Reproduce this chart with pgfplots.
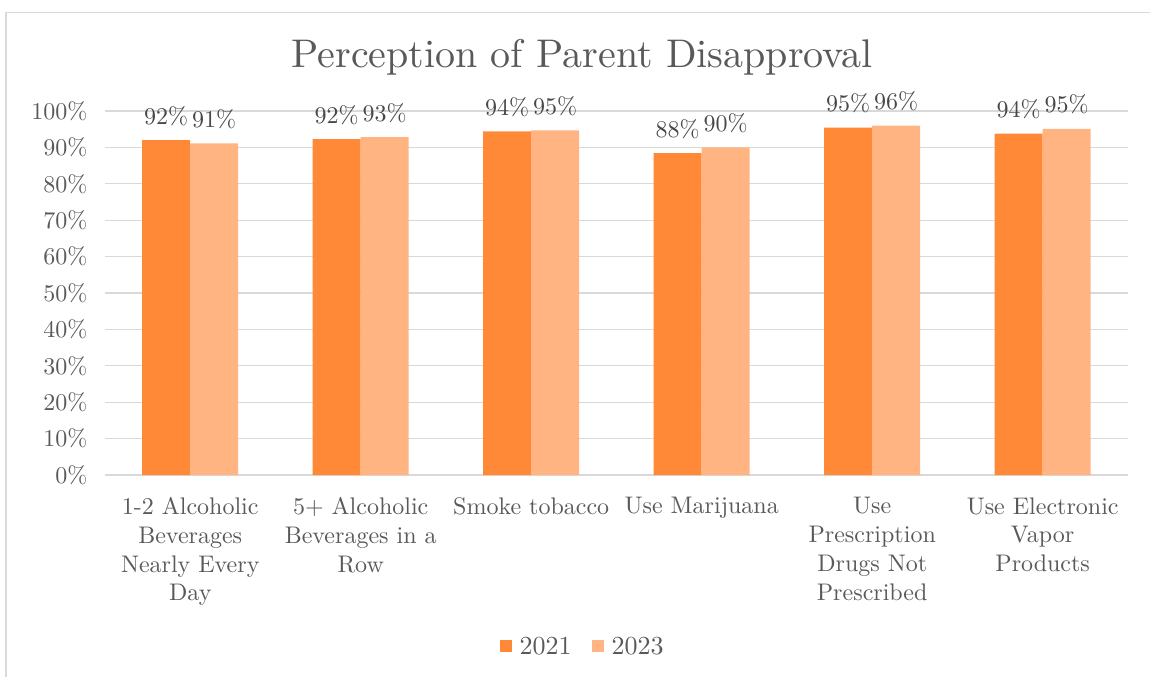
\documentclass[border=0pt]{standalone}
\usepackage{fontspec}
\setmainfont{lmroman10-regular.otf}
\usepackage{pgfplots}
\pgfplotsset{compat=1.18}
\definecolor{cA}{HTML}{FF8937}
\definecolor{cB}{HTML}{FFB482}
\definecolor{txt}{HTML}{595959}
\definecolor{grd}{HTML}{D9D9D9}
\begin{document}
\begin{tikzpicture}[x=1pt,y=1pt]
\useasboundingbox (0,0) rectangle (1150,-677);
\draw[grd,line width=2pt] (6,-677) -- (6,-12.5);
\draw[grd,line width=1.2pt] (5,-12.5) -- (1150,-12.5);
\node[text=txt,font=\fontsize{40}{44}\selectfont] at (582,-57) {Perception of Parent Disapproval};
\begin{axis}[
  at={(105pt,-475pt)}, anchor=south west,
  scale only axis, width=1023pt, height=364pt,
  ybar=0pt, bar width=48pt,
  xmin=-0.5, xmax=5.5, ymin=0, ymax=100,
  ytick={0,10,...,100},
  yticklabel={\pgfmathprintnumber{\tick}\%},
  xtick=data,
  xticklabels={{1-2 Alcoholic\\Beverages\\Nearly Every\\Day},{5+ Alcoholic\\Beverages in a\\Row},{Smoke tobacco},{Use Marijuana},{Use\\Prescription\\Drugs Not\\Prescribed},{Use Electronic\\Vapor\\Products}},
  xticklabel style={align=center,text=txt,font=\fontsize{24}{28.7}\selectfont,yshift=-19pt},
  yticklabel style={text=txt,font=\fontsize{24}{26}\selectfont,xshift=-14pt},
  /pgf/number format/assume math mode=true,
  major tick length=0pt,
  axis line style={draw=none},
  ymajorgrids, grid style={grd,line width=1.3pt},
  nodes near coords={\pgfmathprintnumber[fixed,precision=0]{\pgfplotspointmeta}\%},
  nodes near coords style={text=black!72,font=\fontsize{24}{26}\selectfont,anchor=south,yshift=11pt},
  legend style={at={(0.467,-0.47)},anchor=center,draw=none,legend columns=2,
    font=\fontsize{26}{28}\selectfont,text=txt,
    /tikz/every odd column/.append style={column sep=6pt},
    /tikz/every even column/.append style={column sep=18pt}},
  legend image code/.code={\fill[#1] (0pt,-6pt) rectangle (12pt,6pt);},
]
\addplot[draw=none,fill=cA] coordinates {(0,92.0) (1,92.3) (2,94.4) (3,88.4) (4,95.4) (5,93.8)};
\addplot[draw=none,fill=cB] coordinates {(0,91.1) (1,92.8) (2,94.7) (3,90.0) (4,96.0) (5,95.1)};
\legend{2021,2023}
\end{axis}
\end{tikzpicture}
\end{document}
